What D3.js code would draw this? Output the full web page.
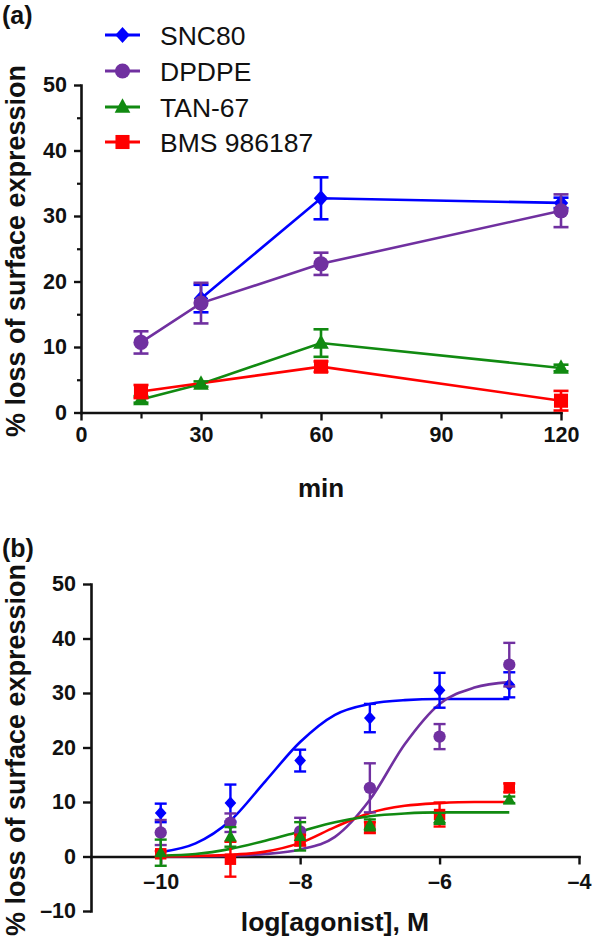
<!DOCTYPE html>
<html>
<head>
<meta charset="utf-8">
<script src="https://cdn.jsdelivr.net/npm/d3@7"></script>
<style>
  html, body { margin: 0; padding: 0; background: #fff; }
  svg { display: block; }
  text { font-family: "Liberation Sans", Arial, Helvetica, sans-serif; fill: #111; }
</style>
</head>
<body>
<svg id="chart" width="594" height="942"></svg>
<script>
// ---------- DATA ----------
const seriesNames = ["SNC80", "DPDPE", "TAN-67", "BMS 986187"];
const seriesColors = ["#0000ff", "#7030a0", "#118a11", "#ff0000"];
const seriesShapes = ["diamond", "circle", "triangle", "square"];

// Panel (a): time course
const timeMin = [15, 30, 60, 120];
const timeTicks = [0, 30, 60, 90, 120];
const timeMinorTicks = [15, 45, 75, 105];
const snc80Time = [null, 17.4, 32.7, 32.0];
const snc80TimeErr = [null, 2.1, 3.2, 0.8];
const dpdpeTime = [10.7, 16.7, 22.7, 30.8];
const dpdpeTimeErr = [1.7, 3.1, 1.7, 2.5];
const tan67Time = [2.0, 4.35, 10.6, 6.8];
const tan67TimeErr = [0.5, 0.4, 2.1, 0.5];
const bmsTime = [3.2, null, 7.0, 1.8];
const bmsTimeErr = [1.0, null, 0.8, 1.5];
const yTicksA = [0, 10, 20, 30, 40, 50];
const yMinorTicksA = [5, 15, 25, 35, 45];

// Panel (b): concentration response
const logConc = [-10, -9, -8, -7, -6, -5];
const xTicksB = [-10, -8, -6, -4];
const yTicksB = [-10, 0, 10, 20, 30, 40, 50];
const snc80Dose = [8.0, 9.8, 17.6, 25.4, 30.5, 31.5];
const snc80DoseErr = [1.7, 3.4, 2.0, 2.6, 3.2, 2.3];
const dpdpeDose = [4.4, 6.2, 4.6, 12.6, 22.0, 35.2];
const dpdpeDoseErr = [2.3, 1.7, 2.5, 4.5, 2.3, 4.0];
const tan67Dose = [0.7, 3.6, 3.7, 5.8, 7.0, 10.4];
const tan67DoseErr = [2.4, 1.8, 2.6, 1.0, 1.0, 0.6];
const bmsDose = [0.5, -0.5, 3.0, 5.3, 7.7, 12.6];
const bmsDoseErr = [0.5, 3.2, 1.0, 1.0, 2.2, 0.8];

// fitted curves
const curveLogConc = [-10, -9.5, -9, -8.5, -8, -7.5, -7, -6.5, -6, -5.5, -5];
const snc80Curve = [0.8, 2.4, 6.6, 13.8, 21.0, 26.0, 28.0, 28.7, 28.9, 28.9, 28.9];
const dpdpeCurve = [0.0, 0.05, 0.15, 0.45, 1.3, 3.6, 10.4, 20.6, 28.0, 31.0, 32.0];
const tan67Curve = [0.15, 0.45, 1.4, 2.9, 4.6, 6.3, 7.4, 7.9, 8.1, 8.1, 8.1];
const bmsCurve = [0.0, 0.1, 0.3, 0.9, 2.5, 5.4, 8.0, 9.3, 9.8, 10.0, 10.0];

// ---------- DRAW ----------
const svg = d3.select("#chart");
const dash = v => (v < 0 ? "\u2013" + Math.abs(v) : String(v));

function markerPath(shape, s) {
  if (shape === "diamond") return `M0,${-s}L${s * 0.9},0L0,${s}L${-s * 0.9},0Z`;
  if (shape === "square") return `M${-s * 0.88},${-s * 0.88}H${s * 0.88}V${s * 0.88}H${-s * 0.88}Z`;
  if (shape === "triangle") { const h = s * 1.8; return `M0,${-h * 0.6}L${s * 0.98},${h * 0.4}L${-s * 0.98},${h * 0.4}Z`; }
  return d3.symbol(d3.symbolCircle, Math.PI * s * s * 0.9)();
}

function styleAxis(g, fontSize) {
  g.select(".domain").attr("stroke", "#111").attr("stroke-width", 2.6).attr("stroke-linecap", "square");
  g.selectAll(".tick line").attr("stroke", "#111").attr("stroke-width", 2.4);
  g.selectAll(".tick text").attr("fill", "#111").style("font-size", fontSize + "px").style("font-weight", "bold")
    .style("font-family", '"Liberation Sans", Arial, sans-serif');
}

// ===== Panel (a) =====
const xA = d3.scaleLinear().domain([0, 120]).range([81, 561]);
const yA = d3.scaleLinear().domain([0, 50]).range([412.5, 85]);
const gA = svg.append("g");

// minor ticks
gA.append("g").attr("transform", `translate(81,0)`)
  .call(d3.axisLeft(yA).tickValues(yMinorTicksA).tickSize(4).tickFormat(""))
  .call(g => { g.select(".domain").remove(); g.selectAll(".tick line").attr("stroke", "#111").attr("stroke-width", 2.2); });
gA.append("g").attr("transform", `translate(0,412.5)`)
  .call(d3.axisBottom(xA).tickValues(timeMinorTicks).tickSize(6).tickFormat(""))
  .call(g => { g.select(".domain").remove(); g.selectAll(".tick line").attr("stroke", "#111").attr("stroke-width", 2.2); });

gA.append("g").attr("transform", `translate(81,0)`)
  .call(d3.axisLeft(yA).tickValues(yTicksA).tickSize(7).tickSizeOuter(0).tickPadding(7).tickFormat(dash))
  .call(g => styleAxis(g, 21.5));
gA.append("g").attr("transform", `translate(0,412.5)`)
  .call(d3.axisBottom(xA).tickValues(timeTicks).tickSize(8).tickSizeOuter(0).tickPadding(6).tickFormat(dash))
  .call(g => styleAxis(g, 21.5));

const timeSeries = [
  { v: snc80Time, e: snc80TimeErr },
  { v: dpdpeTime, e: dpdpeTimeErr },
  { v: tan67Time, e: tan67TimeErr },
  { v: bmsTime, e: bmsTimeErr }
];
const lineA = d3.line().defined(d => d.y != null).x(d => xA(d.x)).y(d => yA(d.y));
timeSeries.forEach((s, i) => {
  const pts = timeMin.map((t, j) => ({ x: t, y: s.v[j], e: s.e[j] })).filter(d => d.y != null);
  gA.append("path").datum(pts).attr("d", lineA).attr("fill", "none")
    .attr("stroke", seriesColors[i]).attr("stroke-width", 2.6);
});
timeSeries.forEach((s, i) => {
  const pts = timeMin.map((t, j) => ({ x: t, y: s.v[j], e: s.e[j] })).filter(d => d.y != null);
  const g = gA.append("g").attr("stroke", seriesColors[i]).attr("stroke-width", 2.6);
  pts.forEach(d => {
    if (!d.e) return;
    const cx = xA(d.x), y1 = yA(d.y + d.e), y2 = yA(d.y - d.e);
    g.append("line").attr("x1", cx).attr("x2", cx).attr("y1", y1).attr("y2", y2);
    g.append("line").attr("x1", cx - 7.5).attr("x2", cx + 7.5).attr("y1", y1).attr("y2", y1);
    g.append("line").attr("x1", cx - 7.5).attr("x2", cx + 7.5).attr("y1", y2).attr("y2", y2);
  });
  gA.selectAll(null).data(pts).enter().append("path")
    .attr("transform", d => `translate(${xA(d.x)},${yA(d.y)})`)
    .attr("d", markerPath(seriesShapes[i], 8))
    .attr("fill", seriesColors[i]);
});

// legend
const legendY = [35, 71, 107, 142];
seriesNames.forEach((name, i) => {
  const lg = svg.append("g").attr("transform", `translate(0,${legendY[i]})`);
  lg.append("line").attr("x1", 105).attr("x2", 140).attr("y1", 0).attr("y2", 0)
    .attr("stroke", seriesColors[i]).attr("stroke-width", 3);
  lg.append("path").attr("transform", "translate(122.5,0)").attr("d", markerPath(seriesShapes[i], 8))
    .attr("fill", seriesColors[i]);
  lg.append("text").attr("x", 160).attr("y", 0).attr("dy", "0.36em")
    .style("font-size", "26.5px").text(name);
});

gA.append("text").attr("x", 321).attr("y", 497).attr("text-anchor", "middle")
  .style("font-size", "26px").style("font-weight", "bold").text("min");
gA.append("text").attr("transform", "translate(25,251) rotate(-90)").attr("text-anchor", "middle")
  .style("font-size", "27px").style("font-weight", "bold").text("% loss of surface expression");
svg.append("text").attr("x", 2).attr("y", 24).style("font-size", "25px").style("font-weight", "bold").text("(a)");

// ===== Panel (b) =====
const xB = d3.scaleLinear().domain([-11, -4]).range([91, 579]);
const yB = d3.scaleLinear().domain([-10, 50]).range([911, 584]);
const gB = svg.append("g");

gB.append("g").attr("transform", `translate(91,0)`)
  .call(d3.axisLeft(yB).tickValues(yTicksB).tickSize(8).tickSizeOuter(0).tickPadding(7).tickFormat(dash))
  .call(g => styleAxis(g, 21.5));
gB.append("g").attr("transform", `translate(0,${yB(0)})`)
  .call(d3.axisBottom(xB).tickValues(xTicksB).tickSize(8).tickSizeOuter(0).tickPadding(9).tickFormat(dash))
  .call(g => styleAxis(g, 21.5));

const doseSeries = [
  { v: snc80Dose, e: snc80DoseErr, c: snc80Curve, idx: 0 },
  { v: dpdpeDose, e: dpdpeDoseErr, c: dpdpeCurve, idx: 1 },
  { v: bmsDose, e: bmsDoseErr, c: bmsCurve, idx: 3 },
  { v: tan67Dose, e: tan67DoseErr, c: tan67Curve, idx: 2 }
];
const lineB = d3.line().x(d => xB(d.x)).y(d => yB(d.y)).curve(d3.curveMonotoneX);
doseSeries.forEach(s => {
  const cpts = curveLogConc.map((x, j) => ({ x, y: s.c[j] }));
  gB.append("path").datum(cpts).attr("d", lineB).attr("fill", "none")
    .attr("stroke", seriesColors[s.idx]).attr("stroke-width", 2.6);
});
doseSeries.forEach(s => {
  const col = seriesColors[s.idx];
  const pts = logConc.map((x, j) => ({ x, y: s.v[j], e: s.e[j] }));
  const g = gB.append("g").attr("stroke", col).attr("stroke-width", 2.4);
  pts.forEach(d => {
    const cx = xB(d.x), y1 = yB(d.y + d.e), y2 = yB(d.y - d.e);
    g.append("line").attr("x1", cx).attr("x2", cx).attr("y1", y1).attr("y2", y2);
    g.append("line").attr("x1", cx - 6).attr("x2", cx + 6).attr("y1", y1).attr("y2", y1);
    g.append("line").attr("x1", cx - 6).attr("x2", cx + 6).attr("y1", y2).attr("y2", y2);
  });
  gB.selectAll(null).data(pts).enter().append("path")
    .attr("transform", d => `translate(${xB(d.x)},${yB(d.y)})`)
    .attr("d", markerPath(seriesShapes[s.idx], 6.5))
    .attr("fill", col);
});

gB.append("text").attr("x", 335).attr("y", 931).attr("text-anchor", "middle")
  .style("font-size", "26.5px").style("font-weight", "bold").text("log[agonist], M");
gB.append("text").attr("transform", "translate(25,750) rotate(-90)").attr("text-anchor", "middle")
  .style("font-size", "27px").style("font-weight", "bold").text("% loss of surface expression");
svg.append("text").attr("x", 2).attr("y", 557).style("font-size", "25px").style("font-weight", "bold").text("(b)");
</script>
</body>
</html>
